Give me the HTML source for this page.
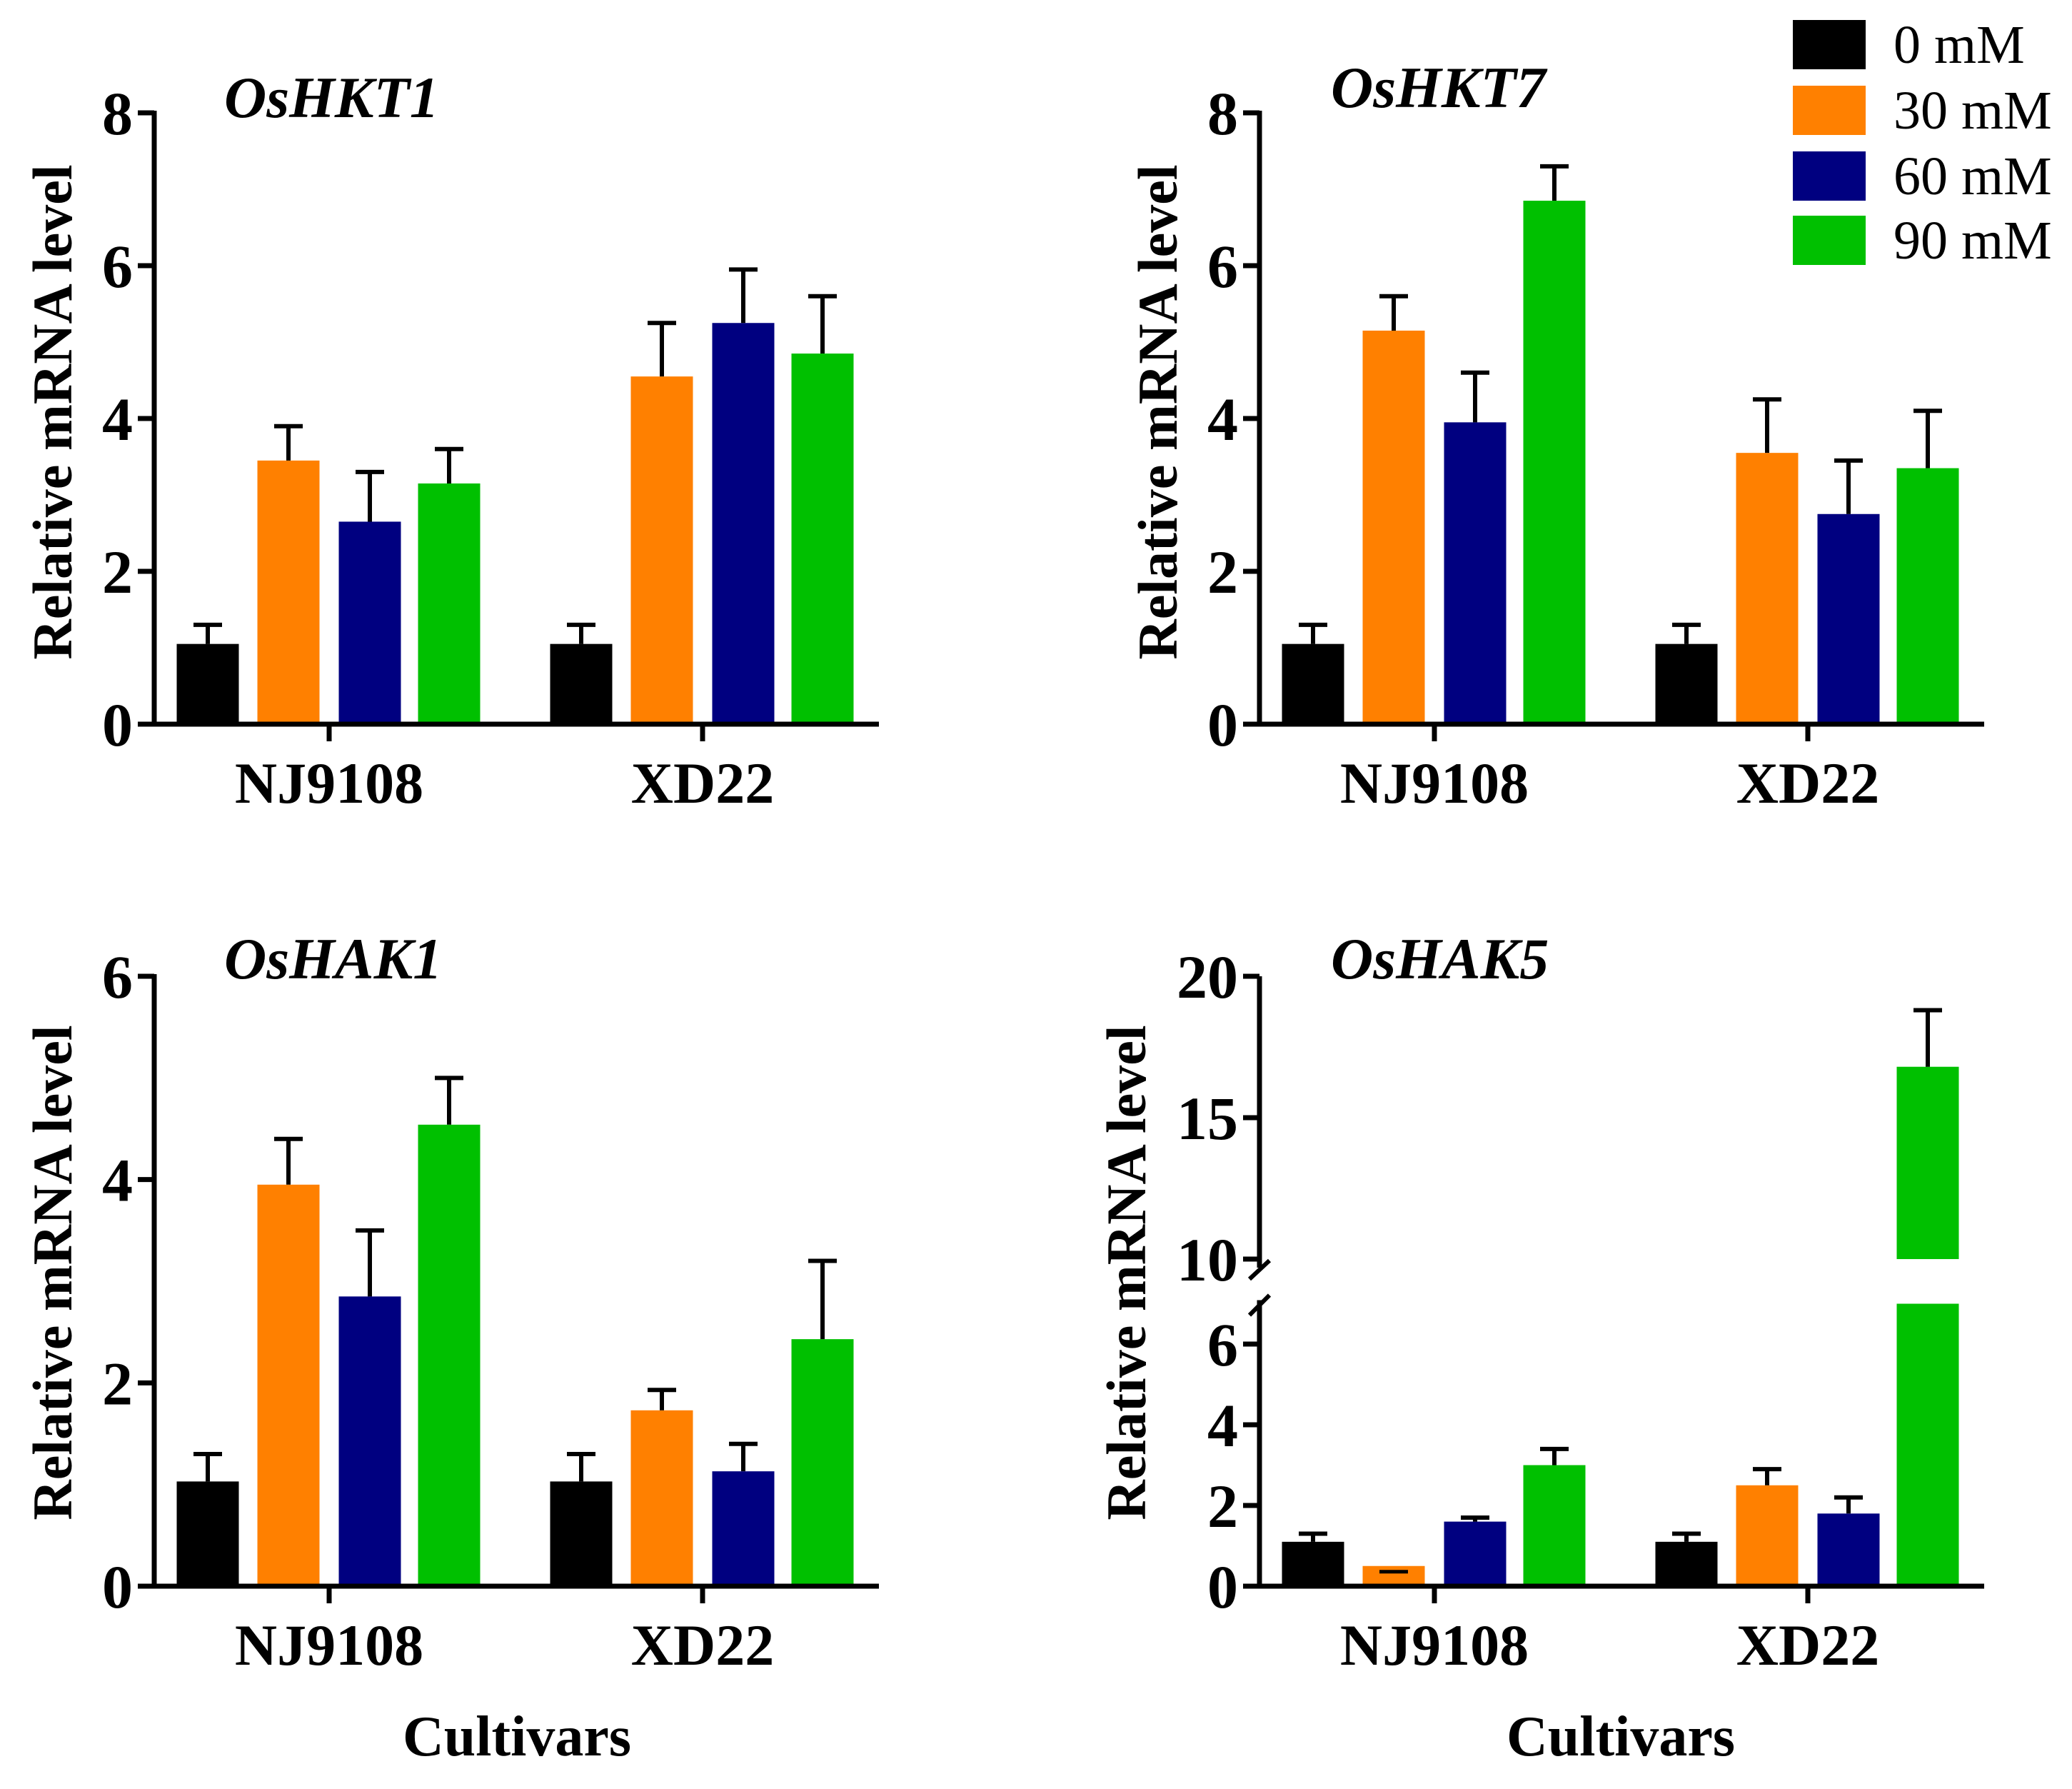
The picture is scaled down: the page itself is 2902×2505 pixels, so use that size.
<!DOCTYPE html>
<html><head><meta charset="utf-8"><style>
html,body{margin:0;padding:0;background:#fff;}
svg{display:block;font-family:"Liberation Serif",serif;}
</style></head><body>
<svg id="chart" width="2902" height="2505" viewBox="0 0 2902 2505" xmlns="http://www.w3.org/2000/svg">
<g id="legend"></g>
<text x="724" y="2458" font-size="80" font-weight="bold" text-anchor="middle">Cultivars</text>
<text x="2270" y="2458" font-size="80" font-weight="bold" text-anchor="middle">Cultivars</text>
</svg>
<script>
const categories = ["NJ9108", "XD22"];
const seriesNames = ["0 mM", "30 mM", "60 mM", "90 mM"];
const seriesColors = ["#000000", "#ff8000", "#000080", "#00c000"];
const hkt1Values = [[1.05, 3.45, 2.65, 3.15], [1.05, 4.55, 5.25, 4.85]];
const hkt1Errors = [[0.25, 0.45, 0.65, 0.45], [0.25, 0.7, 0.7, 0.75]];
const hkt7Values = [[1.05, 5.15, 3.95, 6.85], [1.05, 3.55, 2.75, 3.35]];
const hkt7Errors = [[0.25, 0.45, 0.65, 0.45], [0.25, 0.7, 0.7, 0.75]];
const hak1Values = [[1.03, 3.95, 2.85, 4.54], [1.03, 1.73, 1.13, 2.43]];
const hak1Errors = [[0.27, 0.45, 0.65, 0.46], [0.27, 0.2, 0.27, 0.77]];
const hak5Values = [[1.1, 0.5, 1.6, 3.0], [1.1, 2.5, 1.8, 16.8]];
const hak5Errors = [[0.2, 0.0, 0.1, 0.4], [0.2, 0.4, 0.4, 2.0]];
const ticks8 = [0, 2, 4, 6, 8];
const ticks6 = [0, 2, 4, 6];
const ticksLow = [0, 2, 4, 6];
const ticksHigh = [10, 15, 20];

const NS = "http://www.w3.org/2000/svg";
const svg = document.getElementById("chart");
function mk(tag, attrs, parent) {
  const e = document.createElementNS(NS, tag);
  for (const k in attrs) e.setAttribute(k, attrs[k]);
  (parent || svg).appendChild(e);
  return e;
}
const barOffsets = [-170, -57, 57, 168];
const BW = 87;

function panel(cfg) {
  const g = mk("g", {});
  
  
  const ax = cfg.ax, y0 = cfg.y0;
  const groupX = [cfg.ax + 245, cfg.ax + 768];
  cfg.values.forEach((grp, gi) => {
    grp.forEach((v, si) => {
      const cx = groupX[gi] + barOffsets[si];
      const e = cfg.errors[gi][si];
      if (cfg.broken && v > cfg.lowMax) {
        const r1 = mk("rect", {x: cx - BW/2, y: cfg.yScale(cfg.lowMax), width: BW, height: y0 - cfg.yScale(cfg.lowMax), fill: seriesColors[si]}, g);
        
        
        const r2 = mk("rect", {x: cx - BW/2, y: cfg.yScale(v), width: BW, height: cfg.yScale(cfg.highMin) - cfg.yScale(v), fill: seriesColors[si]}, g);
        
        
      } else {
        const r = mk("rect", {x: cx - BW/2, y: cfg.yScale(v), width: BW, height: y0 - cfg.yScale(v), fill: seriesColors[si]}, g);
        
        
      }
      if (e > 0) {
        const yt = cfg.yScale(v + e), yb = cfg.yScale(v);
        const eb = mk("path", {d: `M${cx} ${yb}V${yt}M${cx-20} ${yt}H${cx+20}`, stroke: "#000", "stroke-width": 6, fill: "none"}, g);
        
        
      } else if (cfg.broken) {
        const yb = cfg.yScale(v) + 8;
        const eb = mk("path", {d: `M${cx-20} ${yb}H${cx+20}`, stroke: "#000", "stroke-width": 5}, g);
        
        
      }
    });
  });
  if (cfg.broken) {
    const a1 = mk("path", {d: `M${ax} ${cfg.yScale(20)}V${cfg.yScale(10)+12}M${ax} ${cfg.yScale(cfg.lowMax)-5}V${y0}`, stroke: "#000", "stroke-width": 7, fill: "none"}, g);
    
    
    const br = mk("path", {d: `M${ax-14} ${cfg.yScale(10)+28}L${ax+14} ${cfg.yScale(10)+2}M${ax-14} ${cfg.yScale(cfg.lowMax)+16}L${ax+14} ${cfg.yScale(cfg.lowMax)-12}`, stroke: "#000", "stroke-width": 6}, g);
    
    
  } else {
    const a1 = mk("line", {x1: ax, y1: cfg.yScale(cfg.ticks[cfg.ticks.length-1]) - 3, x2: ax, y2: y0, stroke: "#000", "stroke-width": 7}, g);
    
    
  }
  cfg.ticks.forEach(t => {
    const y = cfg.yScale(t);
    const tl = mk("line", {x1: ax - 23, y1: y, x2: ax, y2: y, stroke: "#000", "stroke-width": 7}, g);
    
    
    const tx = mk("text", {x: ax - 30, y: y + 30, "font-size": 86, "font-weight": "bold", "text-anchor": "end"}, g);
    tx.textContent = t;
    
    
  });
  const xa = mk("line", {x1: ax - 17, y1: y0, x2: ax + 1015, y2: y0, stroke: "#000", "stroke-width": 7}, g);
  
  
  categories.forEach((c, i) => {
    const tk = mk("line", {x1: groupX[i], y1: y0, x2: groupX[i], y2: y0 + 24, stroke: "#000", "stroke-width": 7}, g);
    
    
    const tx = mk("text", {x: groupX[i], y: y0 + 110, "font-size": 82, "font-weight": "bold", "text-anchor": "middle"}, g);
    tx.textContent = c;
    
    
  });
  const yt = mk("text", {x: 0, y: 0, "font-size": 78, "font-weight": "bold", "text-anchor": "middle", transform: `translate(${cfg.ytx},${cfg.yty}) rotate(-90)`}, g);
  yt.textContent = "Relative mRNA level";
  
  
  const ti = mk("text", {x: cfg.titleX, y: cfg.titleY, "font-size": 82, "font-weight": "bold", "font-style": "italic"}, g);
  ti.textContent = cfg.title;
  
  
}
function lin(y0, ytop, max) { return v => y0 - v * (y0 - ytop) / max; }

panel({name: "panel-oshkt1", ax: 216, y0: 1014, yScale: lin(1014, 158, 8), ticks: ticks8, values: hkt1Values, errors: hkt1Errors, ytx: 100, yty: 577, title: "OsHKT1", titleX: 314, titleY: 164});
panel({name: "panel-oshkt7", ax: 1764, y0: 1014, yScale: lin(1014, 158, 8), ticks: ticks8, values: hkt7Values, errors: hkt7Errors, ytx: 1648, yty: 577, title: "OsHKT7", titleX: 1864, titleY: 150});
panel({name: "panel-oshak1", ax: 216, y0: 2221, yScale: lin(2221, 1367, 6), ticks: ticks6, values: hak1Values, errors: hak1Errors, ytx: 100, yty: 1782, title: "OsHAK1", titleX: 314, titleY: 1370});
const lowScale = v => 2221 - v * 56.5;
const highScale = v => 1763 - (v - 10) * 39.6;
panel({name: "panel-oshak5", ax: 1764, y0: 2221, broken: true, lowMax: 7, highMin: 10,
  yScale: v => v <= 8.5 ? lowScale(v) : highScale(v),
  ticks: ticksLow.concat(ticksHigh), values: hak5Values, errors: hak5Errors, ytx: 1604, yty: 1782, title: "OsHAK5", titleX: 1864, titleY: 1370});

const legend = document.getElementById("legend");
const legendY = [28, 120, 212, 302];
seriesNames.forEach((n, i) => {
  const r = mk("rect", {x: 2511, y: legendY[i], width: 102, height: 69, fill: seriesColors[i]}, legend);
  
  
  const t = mk("text", {x: 2652, y: legendY[i] + 60, "font-size": 76}, legend);
  t.textContent = n;
  
  
});
</script>
</body></html>
